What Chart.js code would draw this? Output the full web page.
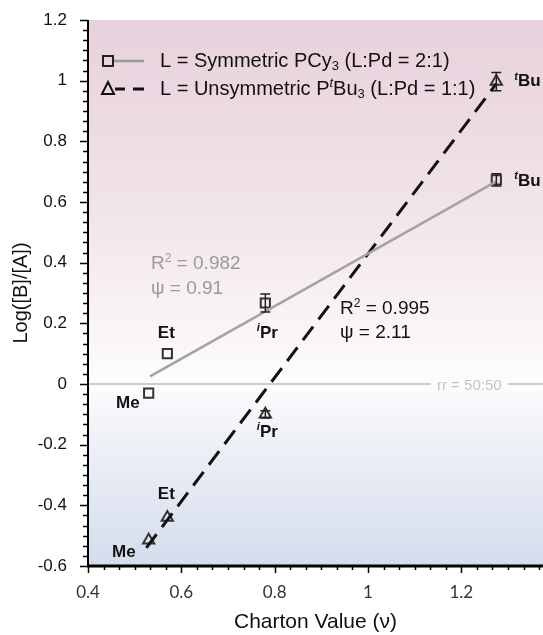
<!DOCTYPE html>
<html lang="en">
<head>
    <meta charset="UTF-8">
    <title>Charton plot</title>
    <script src="https://cdn.jsdelivr.net/npm/chart.js"></script>
    <style>
        html, body { margin: 0; padding: 0; background: #fff; overflow: hidden; }
        #wrap { width: 543px; height: 635px; }
    </style>
</head>
<body>
<div id="wrap"><canvas id="myChart"></canvas></div>

<script>
    // data
    const groups = ['Me', 'Et', 'iPr', 'tBu'];
    const chartonX = [0.53, 0.57, 0.78, 1.275];
    const pcy3Y = [-0.03, 0.10, 0.267, 0.673];
    const pcy3Err = [0, 0, 0.03, 0.02];
    const ptbu3Y = [-0.515, -0.44, -0.10, 0.997];
    const ptbu3Err = [0, 0, 0.012, 0.03];
    const pcy3FitX = [0.533, 1.275];
    const pcy3FitY = [0.025, 0.668];
    const ptbu3FitX = [0.525, 1.275];
    const ptbu3FitY = [-0.54, 0.99];
    const xTicks = [0.4, 0.6, 0.8, 1, 1.2];
    const yTicks = [-0.6, -0.4, -0.2, 0, 0.2, 0.4, 0.6, 0.8, 1, 1.2];
    const xMin = 0.4, xMax = 1.375, yMin = -0.6, yMax = 1.2;

    const SANS = '"Liberation Sans", Arial, sans-serif';

    // draw text made of parts (normal / sub / sup), returns width
    function richText(ctx, parts, x, y, align) {
        let w = 0;
        parts.forEach(p => { ctx.font = p.font; w += ctx.measureText(p.t).width; });
        let cx = align === 'right' ? x - w : align === 'center' ? x - w / 2 : x;
        ctx.textBaseline = 'middle';
        ctx.textAlign = 'left';
        parts.forEach(p => {
            ctx.font = p.font;
            ctx.fillText(p.t, cx, y + (p.dy || 0));
            cx += ctx.measureText(p.t).width;
        });
        return w;
    }

    function groupLabel(name) {
        const big = 'bold 17px ' + SANS;
        const sup = 'italic bold 11px ' + SANS;
        if (name === 'iPr') return [{t: 'i', font: sup, dy: -5}, {t: 'Pr', font: big}];
        if (name === 'tBu') return [{t: 't', font: sup, dy: -5}, {t: 'Bu', font: big}];
        return [{t: name, font: big}];
    }

    // label placement relative to each point: [dx, dy, align]
    const squareLabelPos = [[-9, 10, 'right'], [-1, -20, 'center'], [2, 30, 'center'], [18, 1, 'left']];
    const triLabelPos = [[-13, 12, 'right'], [-1, -23, 'center'], [2, 18, 'center'], [18, 0, 'left']];

    const decor = {
        id: 'decor',
        beforeDatasetsDraw(chart) {
            const {ctx, chartArea: a, scales: {x, y}} = chart;
            ctx.save();
            const g = ctx.createLinearGradient(0, a.top, 0, a.bottom);
            const z = (y.getPixelForValue(0) - a.top) / (a.bottom - a.top);
            g.addColorStop(0, '#e8d1dc');
            g.addColorStop(z * 0.5, '#f1e3ea');
            g.addColorStop(z, '#fdfcfd');
            g.addColorStop(z + 0.12, '#eceff6');
            g.addColorStop(1, '#d4dcec');
            ctx.fillStyle = g;
            ctx.fillRect(a.left, a.top, a.right - a.left, a.bottom - a.top);

            // rr = 50:50 text on the zero line
            ctx.fillStyle = '#c4c4c4';
            ctx.font = '15px ' + SANS;
            ctx.textAlign = 'center';
            ctx.textBaseline = 'middle';
            ctx.fillText('rr = 50:50', x.getPixelForValue(1.217), y.getPixelForValue(0) + 2);

            // annotations
            const sm = '12px ' + SANS, nm = '19px ' + SANS;
            ctx.fillStyle = '#9a9a9a';
            richText(ctx, [{t: 'R', font: nm}, {t: '2', font: sm, dy: -5}, {t: ' = 0.982', font: nm}],
                x.getPixelForValue(0.535), y.getPixelForValue(0.396), 'left');
            richText(ctx, [{t: 'ψ = 0.91', font: nm}], x.getPixelForValue(0.535), y.getPixelForValue(0.314), 'left');
            ctx.fillStyle = '#111';
            richText(ctx, [{t: 'R', font: nm}, {t: '2', font: sm, dy: -5}, {t: ' = 0.995', font: nm}],
                x.getPixelForValue(0.94), y.getPixelForValue(0.248), 'left');
            richText(ctx, [{t: 'ψ = 2.11', font: nm}], x.getPixelForValue(0.94), y.getPixelForValue(0.168), 'left');
            ctx.restore();
        },
        afterDatasetsDraw(chart) {
            const {ctx, chartArea: a, scales: {x, y}} = chart;
            ctx.save();
            // error bars
            ctx.strokeStyle = '#222';
            ctx.lineWidth = 1.5;
            const bar = (xv, yv, e) => {
                if (!e) return;
                const px = x.getPixelForValue(xv);
                const t = y.getPixelForValue(yv + e), b = y.getPixelForValue(yv - e);
                ctx.beginPath();
                ctx.moveTo(px, t); ctx.lineTo(px, b);
                ctx.moveTo(px - 5, t); ctx.lineTo(px + 5, t);
                ctx.moveTo(px - 5, b); ctx.lineTo(px + 5, b);
                ctx.stroke();
            };
            chartonX.forEach((xv, i) => { bar(xv, pcy3Y[i], pcy3Err[i]); bar(xv, ptbu3Y[i], ptbu3Err[i]); });

            // point labels
            ctx.fillStyle = '#111';
            chartonX.forEach((xv, i) => {
                const s = squareLabelPos[i], t = triLabelPos[i];
                richText(ctx, groupLabel(groups[i]), x.getPixelForValue(xv) + s[0], y.getPixelForValue(pcy3Y[i]) + s[1], s[2]);
                richText(ctx, groupLabel(groups[i]), x.getPixelForValue(xv) + t[0], y.getPixelForValue(ptbu3Y[i]) + t[1], t[2]);
            });

            // axes: tick marks (major + minor)
            ctx.strokeStyle = '#000';
            ctx.lineWidth = 1.5;
            ctx.beginPath();
            for (let v = yMin; v <= yMax + 1e-6; v += 0.2 / 6) {
                const py = Math.round(y.getPixelForValue(v)) + 0.5;
                const major = yTicks.some(t => Math.abs(t - v) < 1e-6);
                ctx.moveTo(a.left - (major ? 8 : 5), py); ctx.lineTo(a.left, py);
            }
            for (let v = xMin; v <= xMax + 1e-6; v += 0.2 / 6) {
                const px = Math.round(x.getPixelForValue(v)) + 0.5;
                const major = xTicks.some(t => Math.abs(t - v) < 1e-6);
                ctx.moveTo(px, a.bottom); ctx.lineTo(px, a.bottom + (major ? 7 : 4));
            }
            ctx.stroke();
            ctx.lineWidth = 2;
            ctx.beginPath();
            ctx.moveTo(a.left, a.top); ctx.lineTo(a.left, a.bottom);
            ctx.stroke();
            ctx.lineWidth = 3;
            ctx.beginPath();
            ctx.moveTo(a.left - 1, a.bottom); ctx.lineTo(a.right, a.bottom);
            ctx.stroke();

            // legend
            const lg = '20px ' + SANS, ls = '13px ' + SANS, li = 'italic 13px ' + SANS;
            ctx.strokeStyle = '#222';
            ctx.lineWidth = 2;
            ctx.strokeRect(103, 56, 10, 10);
            ctx.strokeStyle = '#9a9a9a';
            ctx.lineWidth = 2.5;
            ctx.beginPath(); ctx.moveTo(114, 61); ctx.lineTo(144, 61); ctx.stroke();
            ctx.strokeStyle = '#111';
            ctx.lineWidth = 2;
            ctx.beginPath(); ctx.moveTo(102, 94); ctx.lineTo(108, 82); ctx.lineTo(114, 94); ctx.closePath(); ctx.stroke();
            ctx.lineWidth = 3;
            ctx.beginPath(); ctx.moveTo(115, 89); ctx.lineTo(125, 89); ctx.moveTo(133, 89); ctx.lineTo(144, 89); ctx.stroke();
            ctx.fillStyle = '#111';
            richText(ctx, [{t: 'L = Symmetric PCy', font: lg}, {t: '3', font: ls, dy: 5}, {t: ' (L:Pd = 2:1)', font: lg}], 160, 61, 'left');
            richText(ctx, [{t: 'L = Unsymmetric P', font: lg}, {t: 't', font: li, dy: -6}, {t: 'Bu', font: lg},
                {t: '3', font: ls, dy: 5}, {t: ' (L:Pd = 1:1)', font: lg}], 160, 89, 'left');
            ctx.restore();
        }
    };

    const pts = ys => chartonX.map((xv, i) => ({x: xv, y: ys[i]}));
    const line = (xs, ys) => xs.map((xv, i) => ({x: xv, y: ys[i]}));

    const ctx = document.getElementById('myChart').getContext('2d');
    new Chart(ctx, {
        type: 'scatter',
        data: {
            datasets: [{
                label: 'rr = 50:50',
                data: [{x: xMin, y: 0}, {x: 1.135, y: 0}, {x: 1.14, y: null}, {x: 1.3, y: 0}, {x: xMax, y: 0}],
                showLine: true,
                spanGaps: false,
                borderColor: '#cdcdcd',
                borderWidth: 2,
                pointRadius: 0
            }, {
                label: 'PCy3 fit',
                data: line(pcy3FitX, pcy3FitY),
                showLine: true,
                borderColor: '#a3a3a3',
                borderWidth: 2.5,
                pointRadius: 0
            }, {
                label: 'PtBu3 fit',
                data: line(ptbu3FitX, ptbu3FitY),
                showLine: true,
                borderColor: '#111',
                borderWidth: 3,
                borderDash: [17, 9],
                pointRadius: 0
            }, {
                label: 'L = Symmetric PCy3 (L:Pd = 2:1)',
                data: pts(pcy3Y),
                pointStyle: 'rect',
                pointRadius: 6.5,
                borderColor: '#333',
                borderWidth: 2,
                backgroundColor: 'rgba(0,0,0,0)'
            }, {
                label: 'L = Unsymmetric PtBu3 (L:Pd = 1:1)',
                data: pts(ptbu3Y),
                pointStyle: 'triangle',
                pointRadius: 6.5,
                borderColor: '#333',
                borderWidth: 2,
                backgroundColor: 'rgba(0,0,0,0)'
            }]
        },
        options: {
            responsive: true,
            maintainAspectRatio: false,
            animation: false,
            layout: {autoPadding: false, padding: {top: 20, right: 0, left: 0, bottom: 0}},
            plugins: {legend: {display: false}, tooltip: {enabled: false}},
            scales: {
                x: {
                    type: 'linear',
                    min: xMin, max: xMax,
                    afterBuildTicks: s => { s.ticks = xTicks.map(v => ({value: v})); },
                    afterFit: s => { s.height = 69; s.paddingRight = 0; s.paddingLeft = 0; },
                    grid: {display: false},
                    border: {display: false},
                    ticks: {
                        padding: 8,
                        color: '#333',
                        font: {family: 'Lato, "Open Sans", sans-serif', size: 17},
                        callback: v => String(Math.round(v * 10) / 10)
                    },
                    title: {
                        display: true,
                        text: 'Charton Value (ν)',
                        color: '#111',
                        font: {family: SANS, size: 21},
                        padding: {top: 4, bottom: 0}
                    }
                },
                y: {
                    type: 'linear',
                    min: yMin, max: yMax,
                    afterBuildTicks: s => { s.ticks = yTicks.map(v => ({value: v})); },
                    afterFit: s => { s.width = 88; s.paddingTop = 0; s.paddingBottom = 0; },
                    grid: {display: false},
                    border: {display: false},
                    ticks: {
                        padding: 13,
                        color: '#111',
                        font: {family: SANS, size: 17},
                        callback: v => String(Math.round(v * 10) / 10)
                    },
                    title: {
                        display: true,
                        text: 'Log([B]/[A])',
                        color: '#111',
                        font: {family: SANS, size: 20},
                        padding: {top: 9, bottom: 2}
                    }
                }
            }
        },
        plugins: [decor]
    });
</script>
</body>
</html>
